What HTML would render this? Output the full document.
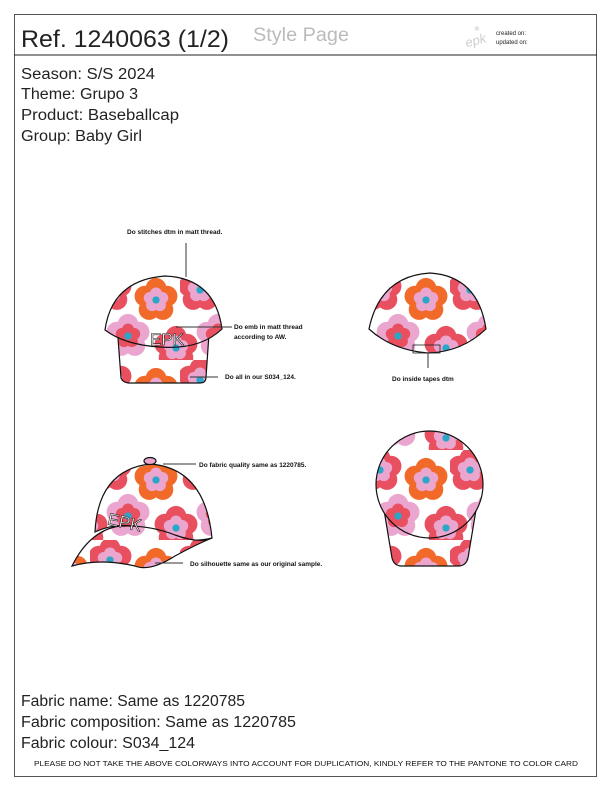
<!DOCTYPE html>
<html><head><meta charset="utf-8">
<style>
html,body{margin:0;padding:0;background:#fff;}
svg{display:block;font-family:"Liberation Sans",sans-serif;}
</style></head>
<body>
<svg width="612" height="792" viewBox="0 0 612 792" xmlns="http://www.w3.org/2000/svg">
<defs>
  <g id="fl">
    <g fill="#e9505f">
      <circle cx="0" cy="-9" r="8"/><circle cx="8.5" cy="-3" r="8"/><circle cx="5.3" cy="7.3" r="8"/><circle cx="-5.3" cy="7.3" r="8"/><circle cx="-8.5" cy="-3" r="8"/>
    </g>
    <g fill="#eba6cf">
      <circle cx="0" cy="-5" r="4.6"/><circle cx="4.8" cy="-1.6" r="4.6"/><circle cx="3" cy="4" r="4.6"/><circle cx="-3" cy="4" r="4.6"/><circle cx="-4.8" cy="-1.6" r="4.6"/>
    </g>
    <circle r="2.8" fill="#2aa6c9"/>
  </g>
  <g id="fo">
    <g fill="#f26a2a">
      <circle cx="0" cy="-9" r="8"/><circle cx="8.5" cy="-3" r="8"/><circle cx="5.3" cy="7.3" r="8"/><circle cx="-5.3" cy="7.3" r="8"/><circle cx="-8.5" cy="-3" r="8"/>
    </g>
    <g fill="#eba6cf">
      <circle cx="0" cy="-5" r="4.6"/><circle cx="4.8" cy="-1.6" r="4.6"/><circle cx="3" cy="4" r="4.6"/><circle cx="-3" cy="4" r="4.6"/><circle cx="-4.8" cy="-1.6" r="4.6"/>
    </g>
    <circle r="2.8" fill="#2aa6c9"/>
  </g>
  <g id="fp">
    <g fill="#eba6cf">
      <circle cx="0" cy="-9" r="8"/><circle cx="8.5" cy="-3" r="8"/><circle cx="5.3" cy="7.3" r="8"/><circle cx="-5.3" cy="7.3" r="8"/><circle cx="-8.5" cy="-3" r="8"/>
    </g>
    <g fill="#e9505f">
      <circle cx="0" cy="-5" r="4.6"/><circle cx="4.8" cy="-1.6" r="4.6"/><circle cx="3" cy="4" r="4.6"/><circle cx="-3" cy="4" r="4.6"/><circle cx="-4.8" cy="-1.6" r="4.6"/>
    </g>
    <circle r="2.8" fill="#2aa6c9"/>
  </g>
  <pattern id="pat" patternUnits="userSpaceOnUse" width="90" height="90">
    <rect width="90" height="90" fill="#fff"/>
    <use href="#fl" transform="translate(20 20) scale(1.3)"/>
    <use href="#fo" transform="translate(66 30) scale(1.3)"/>
    <use href="#fp" transform="translate(38 66) scale(1.3)"/>
    <use href="#fl" transform="translate(86 78) scale(1.3)"/>
    <use href="#fl" transform="translate(-4 78) scale(1.3)"/>
  </pattern>
</defs>

<rect x="14.5" y="14.5" width="582" height="762" fill="none" stroke="#555" stroke-width="1"/>
<line x1="14" y1="55" x2="597" y2="55" stroke="#222" stroke-width="1"/>

<text x="21" y="47" font-size="24" fill="#222" textLength="208" lengthAdjust="spacingAndGlyphs">Ref. 1240063 (1/2)</text>
<text x="253" y="41" font-size="19" fill="#bbb" textLength="96" lengthAdjust="spacingAndGlyphs">Style Page</text>
<g>
  <text x="465" y="45" font-size="13" fill="#ccc" font-style="italic" transform="rotate(-15 475 40)">epk</text>
  <text x="474" y="31" font-size="7" fill="#ddd">✱</text>
</g>
<text x="496" y="35" font-size="6" fill="#222">created on:</text>
<text x="496" y="44" font-size="6" fill="#222">updated on:</text>

<g font-size="15.5" fill="#222">
  <text x="21" y="79" textLength="134" lengthAdjust="spacingAndGlyphs">Season: S/S 2024</text>
  <text x="21" y="99" textLength="117" lengthAdjust="spacingAndGlyphs">Theme: Grupo 3</text>
  <text x="21" y="120" textLength="158" lengthAdjust="spacingAndGlyphs">Product: Baseballcap</text>
  <text x="21" y="141" textLength="121" lengthAdjust="spacingAndGlyphs">Group: Baby Girl</text>
</g>

<g stroke="#111" stroke-width="1.2">
  <path d="M118,338 L121,378 Q123,383 130,383 L200,383 Q206,383 206,377 L209,334 Z" fill="url(#pat)"/>
  <path d="M105,330 Q112,280 165,276 Q215,278 222,329 Q200,350 160,347 Q125,345 105,330 Z" fill="url(#pat)"/>
  <text x="150" y="345" font-size="17" fill="#fff" stroke="#222" stroke-width="0.6">EPK</text>
</g>
<text x="127" y="234" font-size="6.5" font-weight="bold" fill="#111">Do stitches dtm in matt thread.</text>
<line x1="186" y1="243" x2="186" y2="277" stroke="#333"/>
<line x1="176" y1="327" x2="232" y2="327" stroke="#333"/>
<text x="234" y="329" font-size="6.5" font-weight="bold" fill="#111">Do emb in matt thread</text>
<text x="234" y="339" font-size="6.5" font-weight="bold" fill="#111">according to AW.</text>
<line x1="190" y1="377" x2="218" y2="377" stroke="#333"/>
<text x="225" y="379" font-size="6.5" font-weight="bold" fill="#111">Do all in our S034_124.</text>

<g stroke="#111" stroke-width="1.2">
  <path d="M369,329 Q380,276 430,273 Q478,276 486,329 Q462,352 428,353 Q392,350 369,329 Z" fill="url(#pat)"/>
  <rect x="413" y="345" width="27" height="8" fill="none" stroke="#222" stroke-width="0.8"/>
</g>
<line x1="428" y1="353" x2="428" y2="368" stroke="#333"/>
<text x="392" y="381" font-size="6.5" font-weight="bold" fill="#111">Do inside tapes dtm</text>

<g stroke="#111" stroke-width="1.2">
  <path d="M95,532 Q98,470 150,464 Q205,468 212,538 Q185,545 150,530 Q120,520 95,532 Z" fill="url(#pat)"/>
  <path d="M72,566 Q90,530 120,526 Q150,525 175,535 Q200,544 212,538 Q195,545 175,556 Q150,572 135,566 Q100,558 72,566 Z" fill="url(#pat)"/>
  <ellipse cx="150" cy="461" rx="6" ry="3.5" fill="#eba6cf"/>
  <text x="108" y="527" font-size="17" fill="#fff" stroke="#222" stroke-width="0.6" transform="rotate(12 120 520)">EPK</text>
</g>
<line x1="163" y1="464" x2="196" y2="464" stroke="#333"/>
<text x="199" y="467" font-size="6.5" font-weight="bold" fill="#111">Do fabric quality same as 1220785.</text>
<line x1="155" y1="563" x2="183" y2="563" stroke="#333"/>
<text x="190" y="566" font-size="6.5" font-weight="bold" fill="#111">Do silhouette same as our original sample.</text>

<g stroke="#111" stroke-width="1.2">
  <path d="M384,510 L392,558 Q394,566 402,566 L458,566 Q466,566 468,558 L476,510 Z" fill="url(#pat)"/>
  <circle cx="429.5" cy="484.5" r="53.5" fill="url(#pat)"/>
</g>

<g font-size="15.5" fill="#222">
  <text x="21" y="706" textLength="224" lengthAdjust="spacingAndGlyphs">Fabric name: Same as 1220785</text>
  <text x="21" y="727" textLength="275" lengthAdjust="spacingAndGlyphs">Fabric composition: Same as 1220785</text>
  <text x="21" y="748" textLength="174" lengthAdjust="spacingAndGlyphs">Fabric colour: S034_124</text>
</g>
<text x="34" y="766" font-size="7.5" fill="#111" textLength="544" lengthAdjust="spacingAndGlyphs">PLEASE DO NOT TAKE THE ABOVE COLORWAYS INTO ACCOUNT FOR DUPLICATION, KINDLY REFER TO THE PANTONE TO COLOR CARD</text>
</svg>
</body></html>
